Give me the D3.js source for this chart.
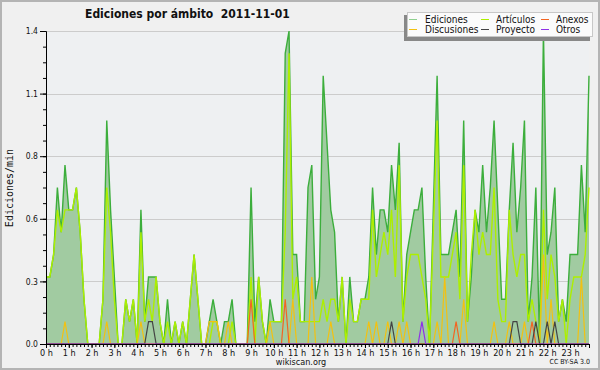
<!DOCTYPE html>
<html>
<head>
<meta charset="utf-8">
<script src="https://cdn.jsdelivr.net/npm/d3@7/dist/d3.min.js"></script>
<style>
body { margin: 0; background: #f0f0f0; }
text { font-family: "DejaVu Sans Condensed", "DejaVu Sans", sans-serif; font-stretch: condensed; fill: #111; }
</style>
</head>
<body>
<svg width="600" height="370"></svg>
<script>
// one value every 10 minutes, edits per minute
var ediciones = [
    0.3, 0.3, 0.4, 0.7, 0.5, 0.8, 0.6, 0.6, 0.7, 0.5, 0.2, 0,
    0, 0, 0, 0.2, 1.0, 0.6, 0.3, 0, 0, 0.2, 0.1, 0.2,
    0, 0.6, 0.1, 0.3, 0.3, 0.3, 0.1, 0, 0.2, 0, 0.1, 0,
    0.1, 0, 0.2, 0.4, 0.2, 0, 0, 0.1, 0.2, 0.1, 0, 0.1,
    0.1, 0.2, 0, 0, 0, 0, 0.7, 0.1, 0.3, 0.1, 0, 0.2,
    0.1, 0.1, 0.1, 1.3, 1.4, 0.4, 0.4, 0.1, 0.1, 0.7, 0.8, 0.2,
    0.3, 1.2, 0.9, 0.6, 0.5, 0.1, 0.3, 0, 0.3, 0.1, 0.1, 0.2,
    0.2, 0.3, 0.7, 0.4, 0.6, 0.6, 0.5, 0.8, 0.6, 0.9, 0.1, 0.4,
    0.5, 0.6, 0.6, 0.7, 0.3, 0, 0.6, 1.2, 0.4, 0.4, 0.4, 0.5,
    0.6, 0.3, 1.0, 0.1, 0.3, 0.6, 0.5, 0.8, 0.5, 0.7, 1.0, 0.6,
    0.2, 0.2, 0.6, 0.9, 0.5, 0.7, 1.0, 0.1, 0.3, 0.7, 0, 1.4,
    0.4, 0.5, 0.7, 0.1, 0.2, 0.1, 0.4, 0.4, 0.4, 0.8, 0.5, 1.2
];
var articulos = [
    0.3, 0.3, 0.4, 0.6, 0.5, 0.6, 0.6, 0.6, 0.7, 0.5, 0.2, 0,
    0, 0, 0, 0.2, 0.7, 0.5, 0.2, 0, 0, 0.2, 0.1, 0.2,
    0, 0.5, 0.1, 0.2, 0.1, 0.3, 0.1, 0, 0.1, 0, 0.1, 0,
    0.1, 0, 0.2, 0.4, 0.2, 0, 0, 0, 0.1, 0.1, 0, 0,
    0, 0.1, 0, 0, 0, 0, 0.3, 0, 0.3, 0.1, 0, 0.1,
    0.1, 0.1, 0.1, 0.5, 1.3, 0.2, 0.3, 0.1, 0.1, 0.1, 0.1, 0.1,
    0.1, 0.2, 0.1, 0.2, 0.2, 0.1, 0.3, 0, 0.2, 0.1, 0.1, 0.2,
    0.2, 0.2, 0.6, 0.3, 0.4, 0.5, 0.4, 0.6, 0.3, 0.8, 0.1, 0.3,
    0.4, 0.4, 0.4, 0.3, 0.2, 0, 0.5, 1.0, 0.3, 0.3, 0.3, 0.4,
    0.5, 0.2, 0.8, 0.1, 0.4, 0.6, 0.4, 0.5, 0.4, 0.4, 0.7, 0.2,
    0.1, 0.1, 0.6, 0.4, 0.3, 0.4, 0.4, 0.1, 0.2, 0.1, 0, 0.6,
    0.2, 0.4, 0.3, 0.1, 0.2, 0, 0.2, 0.3, 0.3, 0.3, 0.4, 0.7
];
var discusiones = [
    0, 0, 0, 0, 0, 0.1, 0, 0, 0, 0, 0, 0,
    0, 0, 0, 0, 0.1, 0, 0, 0, 0, 0, 0, 0,
    0, 0.1, 0, 0, 0, 0, 0, 0, 0, 0, 0, 0,
    0, 0, 0, 0, 0, 0, 0, 0.1, 0.1, 0.1, 0, 0,
    0.1, 0, 0, 0, 0, 0, 0, 0, 0, 0, 0, 0.1,
    0, 0, 0, 0, 0, 0.2, 0, 0, 0, 0, 0.3, 0,
    0, 0, 0, 0.1, 0, 0, 0, 0, 0, 0, 0, 0,
    0, 0.1, 0, 0.1, 0, 0, 0.1, 0, 0, 0.1, 0, 0.1,
    0, 0, 0, 0, 0, 0, 0, 0.1, 0, 0.3, 0, 0,
    0, 0, 0.2, 0, 0, 0, 0, 0, 0, 0, 0.1, 0,
    0, 0, 0.1, 0, 0, 0, 0.1, 0, 0, 0, 0, 0.4,
    0, 0.2, 0, 0, 0, 0, 0, 0, 0, 0.3, 0, 0
];
var anexos = [
    0, 0, 0, 0, 0, 0, 0, 0, 0, 0, 0, 0,
    0, 0, 0, 0, 0, 0, 0, 0, 0, 0, 0, 0,
    0, 0, 0, 0, 0, 0, 0, 0, 0, 0, 0, 0,
    0, 0, 0, 0, 0, 0, 0, 0, 0, 0, 0, 0,
    0, 0, 0, 0, 0, 0, 0.2, 0, 0, 0, 0, 0,
    0, 0, 0, 0.2, 0, 0, 0, 0, 0, 0, 0, 0,
    0, 0, 0, 0, 0, 0, 0, 0, 0, 0, 0, 0,
    0, 0, 0, 0, 0, 0, 0, 0, 0, 0, 0, 0,
    0, 0, 0, 0, 0, 0, 0, 0, 0, 0, 0, 0,
    0.1, 0, 0, 0, 0, 0, 0, 0, 0, 0, 0, 0,
    0, 0, 0, 0, 0, 0, 0, 0, 0.1, 0, 0, 0,
    0, 0, 0, 0, 0, 0, 0, 0, 0, 0, 0, 0
];
var proyecto = [
    0, 0, 0, 0, 0, 0, 0, 0, 0, 0, 0, 0,
    0, 0, 0, 0, 0, 0, 0, 0, 0, 0, 0, 0,
    0, 0, 0, 0.1, 0.1, 0, 0, 0, 0, 0, 0, 0,
    0, 0, 0, 0, 0, 0, 0, 0, 0, 0, 0, 0,
    0, 0, 0, 0, 0, 0, 0, 0, 0, 0, 0, 0,
    0, 0, 0, 0, 0, 0, 0, 0, 0, 0, 0, 0,
    0, 0, 0, 0, 0, 0, 0, 0, 0, 0, 0, 0,
    0, 0, 0, 0, 0, 0, 0, 0.1, 0, 0, 0, 0,
    0, 0, 0, 0, 0, 0, 0, 0, 0, 0, 0, 0,
    0, 0, 0, 0, 0, 0, 0, 0, 0, 0, 0, 0,
    0, 0, 0, 0.1, 0.1, 0, 0, 0, 0, 0.1, 0, 0,
    0.1, 0, 0.1, 0, 0, 0, 0, 0, 0, 0, 0, 0
];
var otros = [
    0, 0, 0, 0, 0, 0, 0, 0, 0, 0, 0, 0,
    0, 0, 0, 0, 0, 0, 0, 0, 0, 0, 0, 0,
    0, 0, 0, 0, 0, 0, 0, 0, 0, 0, 0, 0,
    0, 0, 0, 0, 0, 0, 0, 0, 0, 0, 0, 0,
    0, 0, 0, 0, 0, 0, 0, 0, 0, 0, 0, 0,
    0, 0, 0, 0, 0, 0, 0, 0, 0, 0, 0, 0,
    0, 0, 0, 0, 0, 0, 0, 0, 0, 0, 0, 0,
    0, 0, 0, 0, 0, 0, 0, 0, 0, 0, 0, 0,
    0, 0, 0, 0.1, 0, 0, 0, 0, 0, 0, 0, 0,
    0, 0, 0, 0, 0, 0, 0, 0, 0, 0, 0, 0,
    0, 0, 0, 0, 0, 0, 0, 0, 0, 0, 0, 0,
    0, 0, 0, 0, 0, 0, 0, 0, 0, 0, 0, 0
];
var hourLabels = d3.range(24).map(function (h) { return h + " h"; });
var yTicks = [0, 0.28, 0.56, 0.84, 1.12, 1.4];
var legendNames = ["Ediciones", "Artículos", "Anexos", "Discusiones", "Proyecto", "Otros"];

var colors = {
    "Ediciones": "#3cae3c",
    "Artículos": "#adef00",
    "Anexos": "#f26522",
    "Discusiones": "#f3c111",
    "Proyecto": "#444444",
    "Otros": "#8e32e6"
};

var svg = d3.select("svg");
var plotL = 46, plotR = 589, plotT = 31, plotB = 344;

var x = d3.scaleLinear().domain([0, 1430]).range([plotL, plotR]);
var y = d3.scaleLinear().domain([0, 1.4]).range([plotB, plotT]);

// frame
svg.append("rect")
    .attr("x", 1).attr("y", 1).attr("width", 598).attr("height", 368)
    .attr("fill", "#f0f0f0").attr("stroke", "#b4b4b4").attr("stroke-width", 2);
svg.append("rect")
    .attr("x", plotL).attr("y", plotT).attr("width", plotR - plotL).attr("height", plotB - plotT)
    .attr("fill", "#eef0f2");

// grid
svg.append("g").selectAll("line")
    .data(yTicks.slice(1))
    .enter().append("line")
    .attr("x1", plotL).attr("x2", plotR)
    .attr("y1", function (d) { return Math.round(y(d)) + 0.5; })
    .attr("y2", function (d) { return Math.round(y(d)) + 0.5; })
    .attr("stroke", "#cccccc");

var area = d3.area()
    .x(function (d, i) { return x(i * 10); })
    .y0(y(0))
    .y1(function (d) { return y(d); });

var line = d3.line()
    .x(function (d, i) { return x(i * 10); })
    .y(function (d) { return y(d); });

svg.append("path")
    .datum(ediciones)
    .attr("d", area)
    .attr("fill", "#a1cba1");

var series = [
    ["Ediciones", ediciones],
    ["Artículos", articulos],
    ["Discusiones", discusiones],
    ["Anexos", anexos],
    ["Proyecto", proyecto],
    ["Otros", otros]
];

series.forEach(function (s) {
    svg.append("path")
        .datum(s[1])
        .attr("d", line)
        .attr("fill", "none")
        .attr("stroke", colors[s[0]])
        .attr("stroke-width", s[0] == "Ediciones" || s[0] == "Artículos" ? 1.4 : 1.2)
        .attr("stroke-linejoin", "miter");
});

// y axis
var yAxis = svg.append("g")
    .attr("transform", "translate(" + plotL + ",0)")
    .call(d3.axisLeft(y).tickValues(yTicks).tickFormat(d3.format(".1f")).tickSize(6).tickPadding(2));
svg.append("g")
    .attr("transform", "translate(" + plotL + ",0)")
    .call(d3.axisLeft(y).tickValues(d3.range(0, 1.401, 0.07)).tickFormat("").tickSize(3))
    .select(".domain").remove();
yAxis.selectAll("text")
    .style("font-size", "8.5px")
    .attr("fill", "#222");

// x axis
var xAxis = svg.append("g")
    .attr("transform", "translate(0," + plotB + ")")
    .call(d3.axisBottom(x).tickValues(d3.range(0, 1440, 60))
        .tickFormat(function (d, i) { return hourLabels[i]; })
        .tickSize(4).tickPadding(2));
svg.append("g")
    .attr("transform", "translate(0," + plotB + ")")
    .call(d3.axisBottom(x).tickValues(d3.range(0, 1440, 10)).tickFormat("").tickSize(3))
    .select(".domain").remove();
xAxis.selectAll("text")
    .style("font-size", "9px")
    .attr("fill", "#222");

svg.selectAll(".domain").attr("stroke", "#000");
svg.selectAll(".tick line").attr("stroke", "#000");

// titles
svg.append("text")
    .attr("x", 85).attr("y", 18)
    .style("font-size", "12px").style("font-weight", "bold")
    .style("white-space", "pre")
    .text("Ediciones por ámbito  2011-11-01");

svg.append("text")
    .attr("transform", "translate(13,188) rotate(-90)")
    .attr("text-anchor", "middle")
    .style("font-family", "'DejaVu Sans Mono', monospace")
    .style("font-size", "10px")
    .text("Ediciones/min");

svg.append("text")
    .attr("x", 301).attr("y", 365)
    .attr("text-anchor", "middle")
    .style("font-size", "9px")
    .attr("fill", "#333")
    .text("wikiscan.org");

svg.append("text")
    .attr("x", 590).attr("y", 364)
    .attr("text-anchor", "end")
    .style("font-size", "7px")
    .attr("fill", "#333")
    .text("CC BY-SA 3.0");

// legend
var legend = svg.append("g");
legend.append("rect")
    .attr("x", 404).attr("y", 15).attr("width", 186).attr("height", 26)
    .attr("fill", "#888");
legend.append("rect")
    .attr("x", 407.5).attr("y", 12.5).attr("width", 185).attr("height", 24)
    .attr("fill", "#fbfbfb").attr("stroke", "#c8c8c8");

var colX = [409, 481, 541];
var item = legend.selectAll(".item")
    .data(legendNames)
    .enter().append("g")
    .attr("class", "item")
    .attr("transform", function (d, i) {
        return "translate(" + colX[i % 3] + "," + (i < 3 ? 20 : 30) + ")";
    });
item.append("line")
    .attr("x1", 0).attr("x2", 8)
    .attr("y1", -0.5).attr("y2", -0.5)
    .attr("stroke", function (d) { return d == "Ediciones" ? "#8fd08f" : colors[d]; })
    .attr("stroke-width", 1);
item.append("text")
    .attr("x", function (d, i) { return i % 3 == 0 ? 16 : 15; })
    .attr("y", 3)
    .style("font-size", "10px")
    .attr("fill", "#222")
    .text(function (d) { return d; });
</script>
</body>
</html>
